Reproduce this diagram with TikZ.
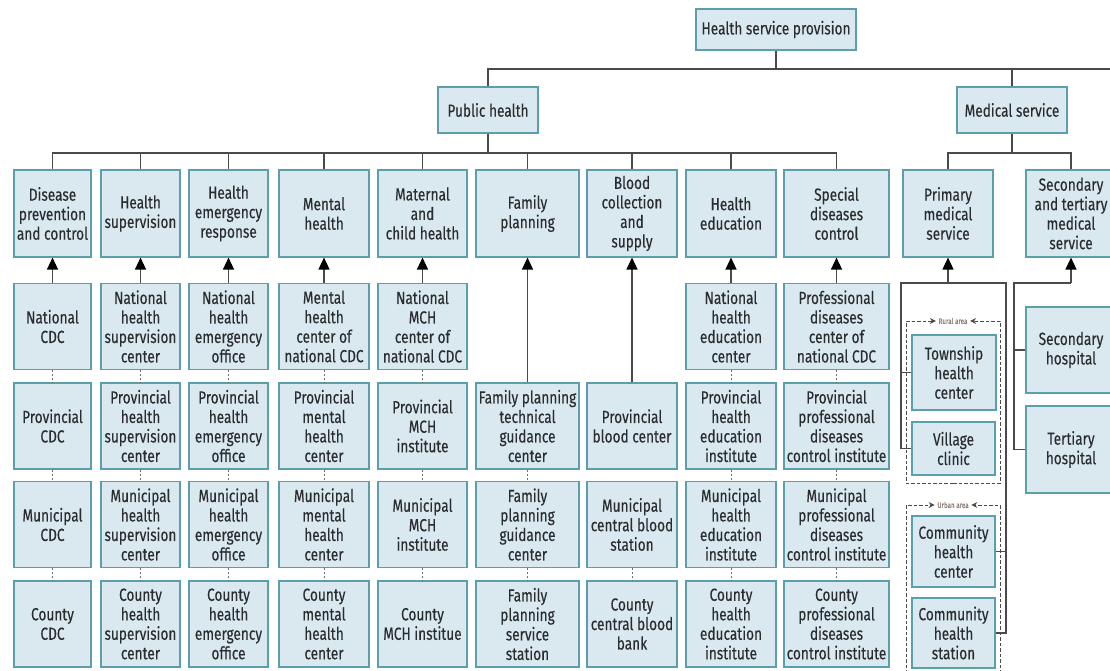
\documentclass[tikz,border=0pt]{standalone}
\usepackage{fontspec}
\setmainfont{Fira Sans}[FakeStretch=0.78, FakeBold=0.25]
\usetikzlibrary{arrows.meta}
\definecolor{boxfill}{HTML}{DAE9EF}
\definecolor{boxline}{HTML}{5A9FAA}
\definecolor{wire}{HTML}{4A4A4A}
\definecolor{ink}{HTML}{2A2D30}
\definecolor{tag}{HTML}{8A7A72}
\begin{document}
\begin{tikzpicture}[x=1pt,y=-1pt,
  box/.style={draw=boxline, fill=boxfill, line width=1.1pt, inner sep=0pt,
    align=center, text=ink, font=\fontsize{17.5}{19.5}\selectfont, minimum height=86pt},
  wire/.style={draw=wire, line width=1.3pt},
  uparrow/.style={wire, -{Triangle[length=12pt,width=11pt,color=black]}},
  rowlink/.style={draw=wire!80, line width=0.9pt, dash pattern=on 2pt off 2pt},
  areaframe/.style={draw=wire, line width=1pt, dash pattern=on 3.5pt off 2pt},
  areatip/.style={areaframe, -{Stealth[length=6pt,width=6pt,color=wire]}},
  areatag/.style={text=tag, inner sep=2.5pt, font=\fontsize{8}{8}\selectfont},
]
\useasboundingbox (0,0) rectangle (1110,670);
\fill[white] (0,0) rectangle (1110,670);
\clip (0,0) rectangle (1110,670);

% ---------- top levels ----------
\node[box, minimum width=160pt, minimum height=41pt] (hsp) at (776,29.5) {Health service provision};
\node[box, minimum width=100pt, minimum height=46pt] (ph) at (488,110) {Public health};
\node[box, minimum width=110pt, minimum height=46pt] (ms) at (1012,110) {Medical service};

% ---------- public health functions ----------
\node[box, minimum width=77pt, minimum height=87pt]  (dpc) at (52.5,213.5) {Disease\\prevention\\and control};
\node[box, minimum width=79pt, minimum height=87pt]  (hs)  at (140.5,213.5) {Health\\supervision};
\node[box, minimum width=79pt, minimum height=87pt]  (her) at (228.5,213.5) {Health\\emergency\\response};
\node[box, minimum width=90pt, minimum height=87pt]  (mh)  at (324,213.5) {Mental\\health};
\node[box, minimum width=89pt, minimum height=87pt]  (mch) at (422.5,213.5) {Maternal\\and\\child health};
\node[box, minimum width=103pt, minimum height=87pt] (fp)  at (527.5,213.5) {Family\\planning};
\node[box, minimum width=90pt, minimum height=87pt]  (bcs) at (632,213.5) {Blood\\collection\\and\\supply};
\node[box, minimum width=90pt, minimum height=87pt]  (he)  at (731,213.5) {Health\\education};
\node[box, minimum width=105pt, minimum height=87pt] (sdc) at (836.5,213.5) {Special\\diseases\\control};
\node[box, minimum width=90pt, minimum height=87pt]  (pms) at (948,213.5) {Primary\\medical\\service};
\node[box, minimum width=90pt, minimum height=87pt]  (stm) at (1071,213.5) {Secondary\\and tertiary\\medical\\service};

% ---------- national level ----------
\node[box, minimum width=77pt]  (n1) at (52.5,326.5) {National\\CDC};
\node[box, minimum width=79pt]  (n2) at (140.5,326.5) {National\\health\\supervision\\center};
\node[box, minimum width=79pt]  (n3) at (228.5,326.5) {National\\health\\emergency\\office};
\node[box, minimum width=90pt]  (n4) at (324,326.5) {Mental\\health\\center of\\national CDC};
\node[box, minimum width=89pt]  (n5) at (422.5,326.5) {National\\MCH\\center of\\national CDC};
\node[box, minimum width=90pt]  (n8) at (731,326.5) {National\\health\\education\\center};
\node[box, minimum width=105pt] (n9) at (836.5,326.5) {Professional\\diseases\\center of\\national CDC};

% ---------- provincial level ----------
\node[box, minimum width=77pt]  (p1) at (52.5,426) {Provincial\\CDC};
\node[box, minimum width=79pt]  (p2) at (140.5,426) {Provincial\\health\\supervision\\center};
\node[box, minimum width=79pt]  (p3) at (228.5,426) {Provincial\\health\\emergency\\office};
\node[box, minimum width=90pt]  (p4) at (324,426) {Provincial\\mental\\health\\center};
\node[box, minimum width=89pt]  (p5) at (422.5,426) {Provincial\\MCH\\institute};
\node[box, minimum width=103pt] (p6) at (527.5,426) {Family planning\\technical\\guidance\\center};
\node[box, minimum width=90pt]  (p7) at (632,426) {Provincial\\blood center};
\node[box, minimum width=90pt]  (p8) at (731,426) {Provincial\\health\\education\\institute};
\node[box, minimum width=105pt] (p9) at (836.5,426) {Provincial\\professional\\diseases\\control institute};

% ---------- municipal level ----------
\node[box, minimum width=77pt]  (m1) at (52.5,524.5) {Municipal\\CDC};
\node[box, minimum width=79pt]  (m2) at (140.5,524.5) {Municipal\\health\\supervision\\center};
\node[box, minimum width=79pt]  (m3) at (228.5,524.5) {Municipal\\health\\emergency\\office};
\node[box, minimum width=90pt]  (m4) at (324,524.5) {Municipal\\mental\\health\\center};
\node[box, minimum width=89pt]  (m5) at (422.5,524.5) {Municipal\\MCH\\institute};
\node[box, minimum width=103pt] (m6) at (527.5,524.5) {Family\\planning\\guidance\\center};
\node[box, minimum width=90pt]  (m7) at (632,524.5) {Municipal\\central blood\\station};
\node[box, minimum width=90pt]  (m8) at (731,524.5) {Municipal\\health\\education\\institute};
\node[box, minimum width=105pt] (m9) at (836.5,524.5) {Municipal\\professional\\diseases\\control institute};

% ---------- county level ----------
\node[box, minimum width=77pt]  (k1) at (52.5,624) {County\\CDC};
\node[box, minimum width=79pt]  (k2) at (140.5,624) {County\\health\\supervision\\center};
\node[box, minimum width=79pt]  (k3) at (228.5,624) {County\\health\\emergency\\office};
\node[box, minimum width=90pt]  (k4) at (324,624) {County\\mental\\health\\center};
\node[box, minimum width=89pt]  (k5) at (422.5,624) {County\\MCH institue};
\node[box, minimum width=103pt] (k6) at (527.5,624) {Family\\planning\\service\\station};
\node[box, minimum width=90pt]  (k7) at (632,624) {County\\central blood\\bank};
\node[box, minimum width=90pt]  (k8) at (731,624) {County\\health\\education\\institute};
\node[box, minimum width=105pt] (k9) at (836.5,624) {County\\professional\\diseases\\control institute};

% ---------- medical service providers ----------
\node[box, minimum width=84pt, minimum height=75pt] (town) at (954,372.5) {Township\\health\\center};
\node[box, minimum width=83pt, minimum height=53pt] (vill) at (953.5,448.5) {Village\\clinic};
\node[box, minimum width=83pt, minimum height=71pt] (chc)  at (953.5,551.5) {Community\\health\\center};
\node[box, minimum width=83pt, minimum height=70pt] (chs)  at (953.5,633) {Community\\health\\station};
\node[box, minimum width=90pt] (sec)  at (1071,350) {Secondary\\hospital};
\node[box, minimum width=90pt, minimum height=87pt] (ter) at (1071,449.5) {Tertiary\\hospital};

% ---------- hierarchy wiring ----------
\coordinate (topbus) at (1120,69);
\draw[wire] (hsp.south) -- (hsp.south |- topbus);
\draw[wire] (ph.north) |- (topbus);
\draw[wire] (ms.north) -- (ms.north |- topbus);

\coordinate (phbus) at (0,153);
\draw[wire] (ph.south) -- (ph.south |- phbus);
\draw[wire] (dpc.north) -- (dpc.north |- phbus) -- (sdc.north |- phbus) -- (sdc.north);
\foreach \n in {hs,her,mh,mch,fp,bcs,he}
  \draw[wire] (\n.north) -- (\n.north |- phbus);
\draw[wire] (ms.south) -- (ms.south |- phbus);
\draw[wire] (pms.north) -- (pms.north |- phbus) -- (stm.north |- phbus) -- (stm.north);

% reporting arrows
\foreach \a/\b in {n1/dpc,n2/hs,n3/her,n4/mh,n5/mch,p6/fp,p7/bcs,n8/he,n9/sdc}
  \draw[uparrow] (\a.north) -- (\b.south);

% links between administrative levels
\foreach \a/\b in {n1/p1,p1/m1,m1/k1, n2/p2,p2/m2,m2/k2, n3/p3,p3/m3,m3/k3,
                   n4/p4,p4/m4,m4/k4, n5/p5,p5/m5,m5/k5, p6/m6,m6/k6, m7/k7,
                   n8/p8,p8/m8,m8/k8, n9/p9,p9/m9,m9/k9}
  \draw[rowlink] (\a.south) -- (\b.north);

% primary medical service
\coordinate (pl) at (901,283);
\coordinate (pr) at (1006,283);
\draw[wire] (vill.west) -| (pl) -- (pr) |- (chs.east);
\draw[wire] (town.west) -- (town.west -| pl);
\draw[wire] (chc.east) -- (chc.east -| pr);
\draw[uparrow] (pms.south |- pl) -- (pms.south);

% secondary and tertiary medical service
\coordinate (sl) at (1014,283);
\draw[wire] (ter.west) -| (sl) -- (stm.south |- sl);
\draw[wire] (sec.west) -- (sec.west -| sl);
\draw[uparrow] (stm.south |- sl) -- (stm.south);

% rural and urban groupings
\node[areatag] (rural) at (953,321) {Rural area};
\draw[areatip] (953,483) -- (906,483) -- (906,321) -- (rural.west);
\draw[areatip] (953,483) -- (1000,483) -- (1000,321) -- (rural.east);
\node[areatag] (urban) at (953,505) {Urban area};
\draw[areatip] (906,690) -- (906,505) -- (urban.west);
\draw[areatip] (1000,690) -- (1000,505) -- (urban.east);
\end{tikzpicture}
\end{document}
